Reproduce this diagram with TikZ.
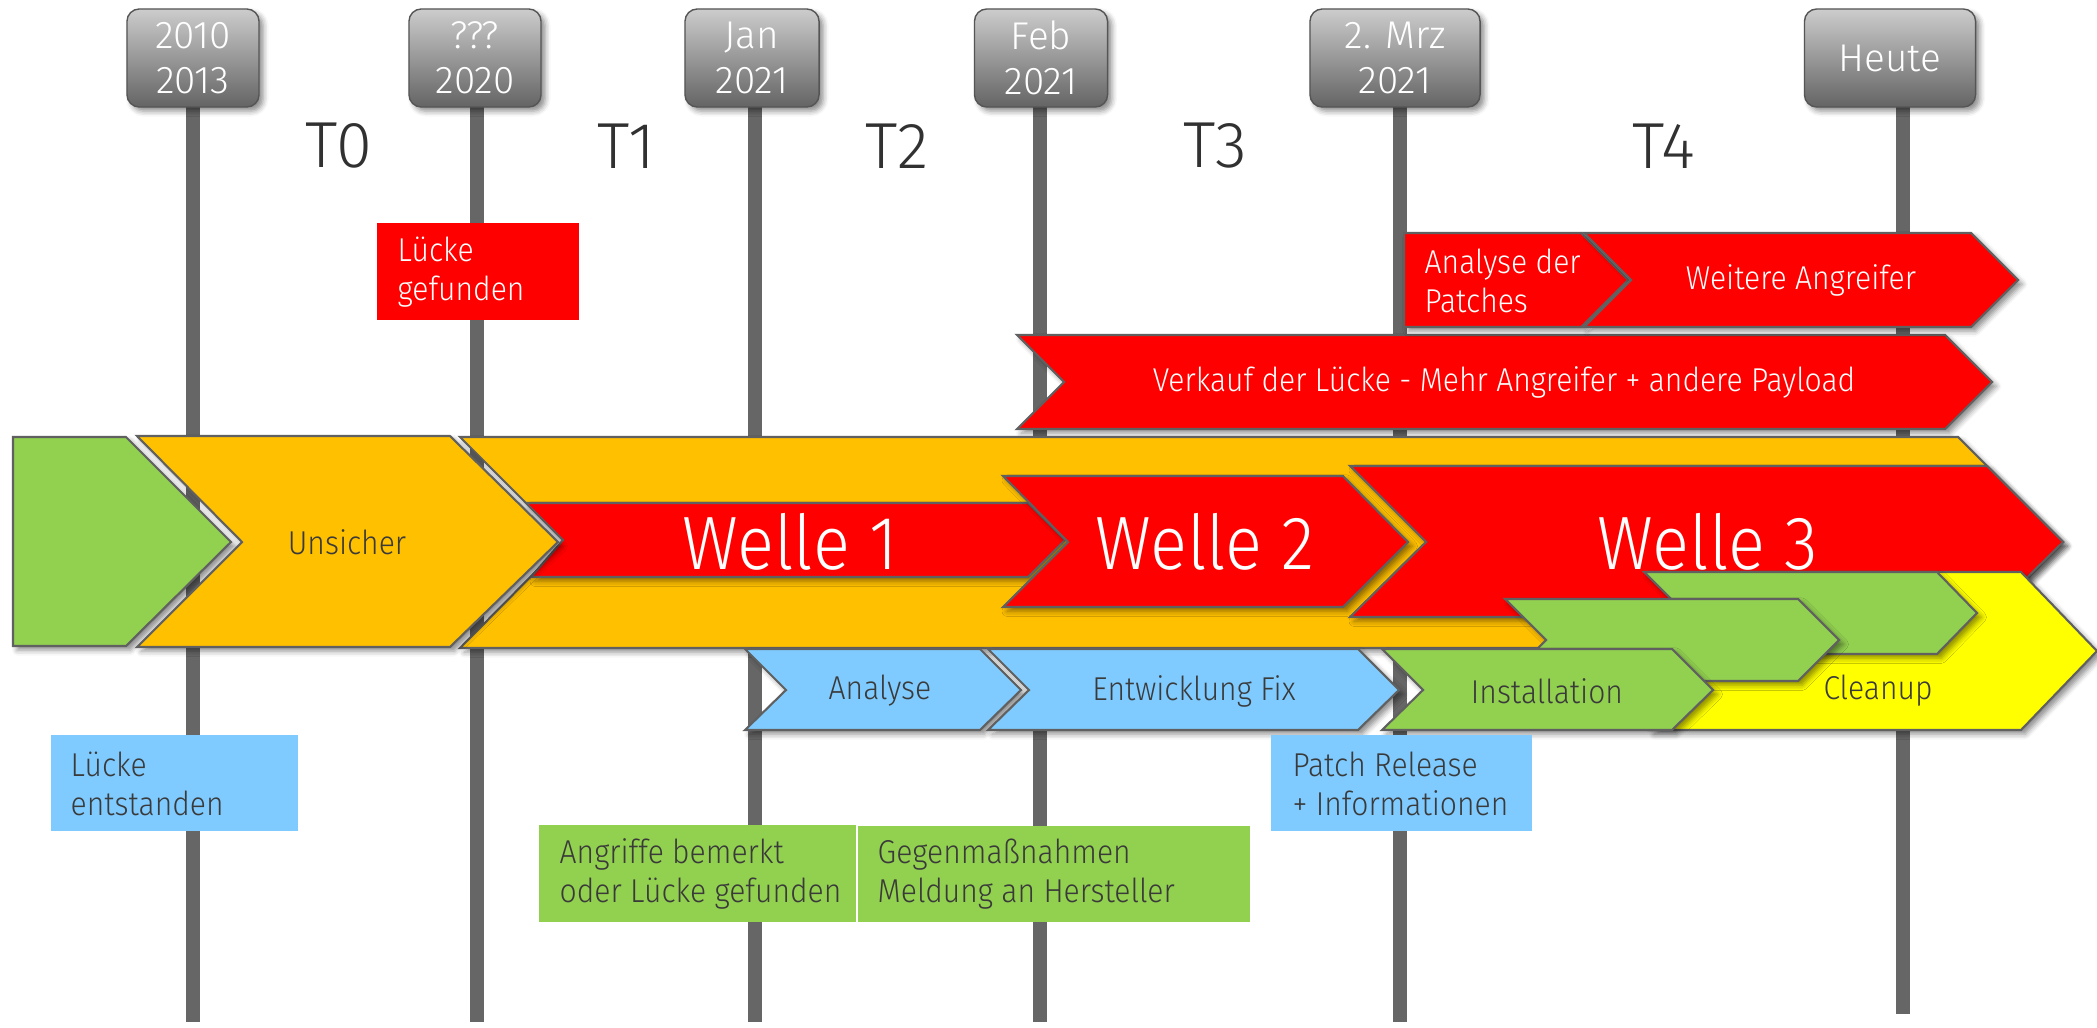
\documentclass[tikz,border=0pt]{standalone}
\usepackage{fontspec}
\setmainfont{Fira Sans Light}
\newfontfamily\tlnarrow{Fira Sans Light}[FakeStretch=0.91]
\usepackage{tikz}
\usetikzlibrary{shadows.blur}
\definecolor{tlgreen}{RGB}{146,208,80}
\definecolor{tlorange}{RGB}{255,192,0}
\definecolor{tlred}{RGB}{255,0,0}
\definecolor{tlblue}{RGB}{127,203,255}
\definecolor{tlyellow}{RGB}{255,255,0}
\definecolor{tlpole}{RGB}{102,102,102}
\definecolor{tledge}{RGB}{96,96,96}
\definecolor{tltext}{RGB}{58,58,58}
\definecolor{tldatetop}{RGB}{204,204,204}
\definecolor{tldatebot}{RGB}{100,100,100}
\newcommand\tlbody{\tlnarrow\fontsize{9.4}{11}\selectfont}
\newcommand\tlwave{\tlnarrow\fontsize{21.5}{25}\selectfont}
\newcommand\tlperiod{\fontsize{18.5}{22}\selectfont}
\newcommand\tldate{\fontsize{11}{12.8}\selectfont}
\tikzset{
  pole/.style={tlpole, line width=4pt},
  softshadow/.style={blur shadow={shadow xshift=1.2pt, shadow yshift=-1.2pt,
      shadow blur radius=1.5pt, shadow opacity=45}},
  datebox/.style={rounded corners=3.5pt, draw=tldatebot!85!black, top color=tldatetop,
      bottom color=tldatebot, text=white, font=\tldate, align=center,
      minimum height=0.98cm, inner sep=0pt, softshadow},
  phase/.style={draw=tledge, line width=0.6pt, softshadow},
  phasetext/.style={font=\tlbody, text=tltext},
  wavetext/.style={font=\tlwave, text=white},
  notetext/.style={font=\tlbody, text=tltext, align=left, anchor=west, inner sep=0pt},
  period/.style={font=\tlperiod, text=tltext!85!black}
}

\begin{document}
\begin{tikzpicture}[x=0.01cm, y=-0.01cm]
    \useasboundingbox (0,0) rectangle (2097,1027);
    % time poles
    \draw[pole] (193,60) -- (193,1022);
    \draw[pole] (477,60) -- (477,1022);
    \draw[pole] (755,60) -- (755,1022);
    \draw[pole] (1040,60) -- (1040,1022);
    \draw[pole] (1400,60) -- (1400,1022);
    \draw[pole] (1903,60) -- (1903,1014);
    % dates
    \node[datebox, minimum width=1.32cm] (d2010) at (193,58) {2010\\2013};
    \node[datebox, minimum width=1.32cm] (d2020) at (475,58) {???\\2020};
    \node[datebox, minimum width=1.34cm] (djan) at (752,58) {Jan\\2021};
    \node[datebox, minimum width=1.33cm] (dfeb) at (1041,58) {Feb\\2021};
    \node[datebox, minimum width=1.70cm] (dmrz) at (1395,58) {2. Mrz\\2021};
    \node[datebox, minimum width=1.71cm] (dheute) at (1890,58) {Heute};
    % periods
    \node[period] (t0) at (339,146) {T0};
    \node[period] (t1) at (626,146) {T1};
    \node[period] (t2) at (897,146) {T2};
    \node[period] (t3) at (1215,146) {T3};
    \node[period] (t4) at (1664,146) {T4};
    % attackers
    \filldraw[phase, fill=tlred] (1017,335) -- (1945,335) -- (1992,382) -- (1945,429)
        -- (1017,429) -- (1064,382) -- cycle;
    \node[phasetext, text=white] (verkauf) at (1504,382)
        {Verkauf der Lücke - Mehr Angreifer + andere Payload};
    \filldraw[phase, fill=tlred] (1404,233) -- (1581,233) -- (1628,280) -- (1581,327)
        -- (1404,327) -- cycle;
    \node[notetext, text=white] (patches) at (1424,281) {Analyse der\\Patches};
    \filldraw[phase, fill=tlred] (1584,233) -- (1971,233) -- (2018,280) -- (1971,327)
        -- (1584,327) -- (1631,280) -- cycle;
    \node[phasetext, text=white] (weitere) at (1801,280) {Weitere Angreifer};
    % insecure band and waves
    \filldraw[phase, fill=tlorange] (460,437) -- (1958,437) -- (2063,542) -- (1958,648)
        -- (460,648) -- (565,542) -- cycle;
    \filldraw[phase, fill=tlred] (526,503) -- (1028,503) -- (1065,540) -- (1028,577)
        -- (531,577) -- (563,540) -- cycle;
    \filldraw[phase, fill=tlred] (1003,476) -- (1343,476) -- (1408,542) -- (1343,607)
        -- (1003,607) -- (1068,542) -- cycle;
    \filldraw[phase, fill=tlred] (1350,466) -- (1987,466) -- (2063,542) -- (1987,617)
        -- (1350,617) -- (1426,542) -- cycle;
    \node[wavetext] (welle1) at (790,542) {Welle 1};
    \node[wavetext] (welle2) at (1205,542) {Welle 2};
    \node[wavetext] (welle3) at (1708,542) {Welle 3};
    % cleanup and installations
    \filldraw[phase, fill=tlyellow] (1650,572) -- (2021,572) -- (2097,651) -- (2021,730)
        -- (1650,730) -- (1729,651) -- cycle;
    \filldraw[phase, fill=tlgreen] (1644,572) -- (1937,572) -- (1977,613) -- (1937,654)
        -- (1644,654) -- (1685,613) -- cycle;
    \filldraw[phase, fill=tlgreen] (1505,599) -- (1798,599) -- (1839,640) -- (1798,681)
        -- (1505,681) -- (1546,640) -- cycle;
    % start
    \filldraw[phase, fill=tlgreen] (13,437) -- (126,437) -- (231,542) -- (126,646)
        -- (13,646) -- cycle;
    \filldraw[phase, fill=tlorange] (137,436) -- (450,436) -- (558,542) -- (450,647)
        -- (137,647) -- (242,542) -- cycle;
    \node[phasetext] (unsicher) at (347,542) {Unsicher};
    % vendor side
    \filldraw[phase, fill=tlblue] (745,649) -- (980,649) -- (1021,690) -- (980,730)
        -- (745,730) -- (786,690) -- cycle;
    \filldraw[phase, fill=tlblue] (988,649) -- (1358,649) -- (1399,690) -- (1358,730)
        -- (988,730) -- (1029,690) -- cycle;
    \filldraw[phase, fill=tlgreen] (1382,649) -- (1672,649) -- (1713,690) -- (1672,730)
        -- (1382,730) -- (1423,690) -- cycle;
    \node[phasetext] (analyse) at (880,691) {Analyse};
    \node[phasetext] (fix) at (1194,691) {Entwicklung Fix};
    \node[phasetext] (install) at (1547,691) {Installation};
    \node[phasetext] (cleanup) at (1878,691) {Cleanup};
    % notes
    \fill[tlred] (377,223) rectangle (579,320);
    \node[notetext, text=white] (gefunden) at (397,272) {Lücke\\gefunden};
    \fill[tlblue] (51,735) rectangle (298,831);
    \node[notetext] (entstanden) at (70,784) {Lücke\\entstanden};
    \fill[tlblue] (1271,735) rectangle (1532,831);
    \node[notetext] (release) at (1292,784) {Patch Release\\+ Informationen};
    \fill[tlgreen] (539,825) rectangle (856,922);
    \node[notetext] (bemerkt) at (559,874) {Angriffe bemerkt\\oder Lücke gefunden};
    \fill[tlgreen] (858,826) rectangle (1250,922);
    \node[notetext] (gegen) at (877,874) {Gegenmaßnahmen\\Meldung an Hersteller};
\end{tikzpicture}
\end{document}
